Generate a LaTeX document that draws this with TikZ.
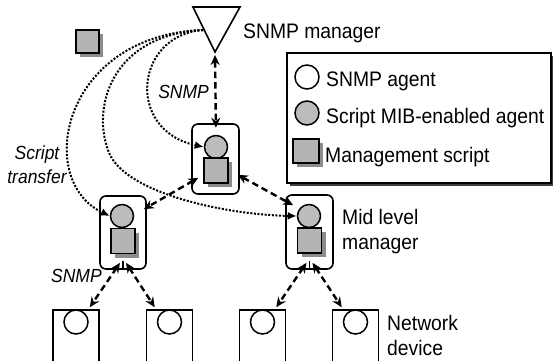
\documentclass[tikz,border=0pt]{standalone}
\usepackage{fontspec}
\setmainfont{Liberation Sans}[FakeStretch=0.92]
\usetikzlibrary{arrows.meta,shadows,calc}
\definecolor{agentgray}{RGB}{188,188,188}
\definecolor{scriptgray}{RGB}{180,180,180}
\definecolor{shadowgray}{RGB}{140,140,140}
\tikzset{
 agent/.style={circle, draw, line width=1.5pt, fill=agentgray, minimum size=23pt, inner sep=0pt},
 plainagent/.style={circle, draw, line width=1.5pt, fill=white, minimum size=24pt, inner sep=0pt},
 script/.style={rectangle, draw, line width=1.5pt, fill=scriptgray, minimum width=24pt, minimum height=25pt, inner sep=0pt,
   drop shadow={shadow xshift=4pt, shadow yshift=-4pt, fill=shadowgray, opacity=1}},
 midbox/.style={rectangle, rounded corners=6pt, draw, line width=1.6pt, minimum width=47pt, inner sep=0pt},
 device/.style={rectangle, draw, line width=1.6pt, minimum width=46pt, minimum height=56pt, inner sep=0pt},
 snmplink/.style={line width=2.4pt, dash pattern=on 6.5pt off 4pt,
   {Stealth[length=10pt,width=9pt]}-{Stealth[length=10pt,width=9pt]}},
 xfer/.style={line width=2pt, dash pattern=on 2pt off 1.6pt, -{Latex[length=9pt,width=8pt]}},
 stem/.style={line width=1.8pt},
 lbl/.style={font=\fontsize{21}{25}\selectfont, inner sep=0pt},
 ilbl/.style={font=\fontsize{19}{23.5}\selectfont\itshape, inner sep=0pt},
 x=1pt, y=-1pt
}
\begin{document}
\begin{tikzpicture}
\useasboundingbox (0,0) rectangle (553,360);

% SNMP manager
\draw[line width=1.6pt, line join=miter] (193,7) -- (240,7) -- (215,52) -- cycle;
\coordinate (mgrapex) at (215,53);
\coordinate (mgrsrc) at (203,30);
\node[lbl, anchor=base west] (mgrlbl) at (243,38) {SNMP manager};

% loose script
\node[script, minimum width=23pt, minimum height=23pt] (loose) at (87.5,41.5) {};

% legend
\fill[black!75] (289.5,55.5) rectangle (553.5,185.5);
\node[rectangle, draw, line width=1.5pt, fill=white, minimum width=264pt, minimum height=130pt, inner sep=0pt] (legend) at (419,118) {};
\node[plainagent] (lgag) at (307,77) {};
\node[lbl, anchor=base west] (lgagt) at (326,86) {SNMP agent};
\node[agent, minimum size=24pt] (lgsag) at (307,113) {};
\node[lbl, anchor=base west] (lgsagt) at (326,123) {Script MIB-enabled agent};
\node[script, minimum width=26pt, minimum height=24pt] (lgsc) at (306,151) {};
\node[lbl, anchor=base west] (lgsct) at (325,162) {Management script};

% mid level boxes
\node[midbox, minimum height=70pt] (topbox) at (215.5,159) {};
\node[midbox, minimum width=46pt, minimum height=73pt] (leftbox) at (123,232.5) {};
\node[midbox, minimum height=74pt] (rightbox) at (309.5,232) {};

% devices
\node[device] (dev1) at (76,338) {};
\node[device] (dev2) at (169.5,338) {};
\node[device] (dev3) at (262.5,338) {};
\node[device] (dev4) at (355.5,338) {};
\node[plainagent] (dag1) at (76,322) {};
\node[plainagent] (dag2) at (169.5,322) {};
\node[plainagent] (dag3) at (262.5,322) {};
\node[plainagent] (dag4) at (355.5,322) {};

% agents and scripts in boxes
\node[agent] (topag) at (216,147) {};
\node[script] (topsc) at (216,170.5) {};
\node[agent] (leftag) at (122,216) {};
\node[script] (leftsc) at (123,241) {};
\node[agent] (rightag) at (309,216) {};
\node[script] (rightsc) at (309.5,240.5) {};

% script transfer curves
\draw[xfer] (mgrsrc) .. controls (135,35) and (125,130) .. (topag.west);
\draw[xfer] (mgrsrc) .. controls (62,35) and (34,180) .. (leftag.west);
\draw[xfer] (mgrsrc) .. controls (110,35) and (90,110) .. (110,155) .. controls (130,195) and (230,215) .. (rightag.west);

% SNMP links
\draw[snmplink, shorten <=2pt, shorten >=7pt] (mgrapex) -- (topag.north);
\draw[snmplink] ($(topbox.south west)+(7,-17)$) -- ($(leftbox.north east)+(-3,14)$);
\draw[snmplink] ($(topbox.south east)+(-2,-20)$) -- ($(rightbox.north west)+(8,11)$);

\draw[stem] (leftbox.south) -- ++(0,-9);
\draw[snmplink] ($(leftbox.south)+(-3,-7)$) -- ($(dev1.north east)+(-10,-2)$);
\draw[snmplink] ($(leftbox.south)+(3,-7)$) -- ($(dev2.north west)+(9,-2)$);
\draw[stem] (rightbox.south) -- ++(0,-9);
\draw[snmplink] ($(rightbox.south)+(-3,-7)$) -- ($(dev3.north east)+(-10,-2)$);
\draw[snmplink] ($(rightbox.south)+(3,-7)$) -- ($(dev4.north west)+(10,-2)$);

% labels
\node[ilbl, anchor=base east] (snmp1) at (209,98) {SNMP};
\node[ilbl, anchor=base west] (snmp2) at (51,282) {SNMP};
\node[ilbl, align=center, anchor=north] (xferlbl) at (37,146) {Script\\transfer};
\node[lbl, align=left, anchor=north west] (midlbl) at (342,209) {Mid level\\manager};
\node[lbl, align=left, anchor=north west] (devlbl) at (387,315) {Network\\device};
\end{tikzpicture}
\end{document}
